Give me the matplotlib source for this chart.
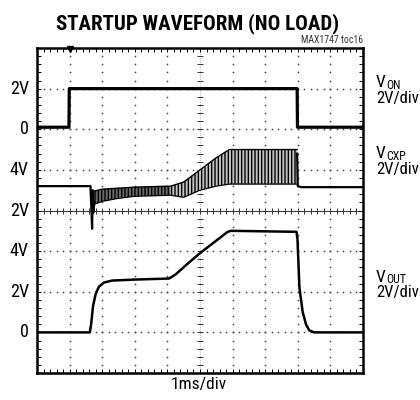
import numpy as np
import matplotlib
matplotlib.use("Agg")
import matplotlib.pyplot as plt
from matplotlib import font_manager

# ---------------- data ----------------
# time axis in ms (1 ms/div, 10 divisions)
von_t = [0.0, 0.98, 0.99, 7.98, 7.99, 10.0]
von_v = [0.1, 0.1, 2.0, 2.0, 0.1, 0.1]

cxp_pre_t = [0.0, 1.64, 1.67, 1.69, 1.71, 1.73, 1.76]
cxp_pre_v = [3.2, 3.2, 2.0, 1.1, 3.0, 1.9, 2.4]
cxp_post_t = [7.98, 8.0, 8.1, 10.0]
cxp_post_v = [4.8, 3.2, 3.15, 3.15]

# envelope of the switching ripple on CXP
cxp_env_t = [1.74, 2.0, 2.5, 3.0, 4.1, 4.5, 5.0, 5.5, 5.9, 6.5, 7.98]
cxp_env_lo = [2.3, 2.45, 2.6, 2.7, 2.75, 2.65, 3.0, 3.2, 3.3, 3.3, 3.3]
cxp_env_hi = [2.95, 3.05, 3.1, 3.15, 3.2, 3.4, 4.0, 4.6, 5.0, 5.0, 5.0]

vout_t = [0.0, 1.62, 1.66, 1.72, 1.80, 1.90, 2.05, 2.3, 3.0, 4.05, 4.25, 4.6,
          5.0, 5.85, 5.95, 7.96, 7.99, 8.05, 8.15, 8.25, 8.35, 8.5, 10.0]
vout_v = [0.0, 0.0, 0.4, 1.3, 1.9, 2.25, 2.45, 2.55, 2.6, 2.65, 2.85, 3.35,
          3.9, 4.95, 5.0, 4.95, 4.6, 2.2, 1.0, 0.4, 0.1, 0.0, 0.0]

left_labels = ["2V", "0", "4V", "2V", "4V", "2V", "0"]
left_label_divs = [7, 6, 5, 4, 3, 2, 1]

channel_names = ["ON", "CXP", "OUT"]
channel_scale = ["2V/div", "2V/div", "2V/div"]

# ---------------- fonts ----------------
names = {f.name for f in font_manager.fontManager.ttflist}
def pick(prefs, default):
    for p in prefs:
        if p in names:
            return p
    return default

BODY = pick(["Roboto Condensed", "Archivo Narrow", "Liberation Sans Narrow",
             "Arial Narrow", "PT Sans Narrow", "IBM Plex Sans Condensed",
             "Barlow Condensed"], "Liberation Sans")
TITLE = pick(["Roboto Condensed", "Archivo Narrow", "IBM Plex Sans Condensed",
              "Barlow Condensed"], "Liberation Sans")
plt.rcParams["font.family"] = [BODY, "DejaVu Sans"]
plt.rcParams["hatch.linewidth"] = 1.0

# channel offsets in divisions (display positions)
def von_div(v):
    return 6 + np.asarray(v) / 2.0

def cxp_div(v):
    return 3 + np.asarray(v) / 2.0

def out_div(v):
    return 1 + np.asarray(v) / 2.0

fig = plt.figure(figsize=(4.2, 4.0), dpi=100)
ax = fig.add_axes([37 / 420, 1 - 373 / 400, 326 / 420, 325 / 400])
ax.set_xlim(0, 10)
ax.set_ylim(0, 8)

# ---- graticule ----
dots_y = np.arange(0.2, 8.0, 0.2)
dots_x = np.arange(0.2, 10.0, 0.2)
for gx in range(1, 10):
    if gx == 5:
        continue
    ax.plot(np.full_like(dots_y, gx), dots_y, ls="none", marker="s",
            ms=1.1, mew=0, color="#444444", zorder=1)
for gy in range(1, 8):
    if gy == 4:
        continue
    ax.plot(dots_x, np.full_like(dots_x, gy), ls="none", marker="s",
            ms=1.1, mew=0, color="#444444", zorder=1)
# center lines with tick marks
ax.axhline(4, color="#333333", lw=0.7, zorder=1)
ax.axvline(5, color="#777777", lw=0.5, ls=(0, (1, 2)), zorder=1)
ax.plot(dots_x, np.full_like(dots_x, 4), ls="none", marker="|", ms=4,
        mew=0.7, color="#333333", zorder=1)
ax.plot(np.full_like(dots_y, 5), dots_y, ls="none", marker="_", ms=5,
        mew=0.7, color="#333333", zorder=1)

# border ticks
ax.set_xticks(np.arange(0, 11, 1))
ax.set_yticks(np.arange(0, 9, 1))
ax.set_xticks(np.arange(0, 10.01, 0.2), minor=True)
ax.set_yticks(np.arange(0, 8.01, 0.2), minor=True)
ax.tick_params(which="both", direction="in", length=3, width=0.7,
               top=True, right=True, labelbottom=False, labelleft=False)
for s in ax.spines.values():
    s.set_linewidth(1.8)

# ---- traces ----
ax.plot(von_t, von_div(von_v), color="black", lw=2.3, zorder=3)
ax.plot(cxp_pre_t, cxp_div(cxp_pre_v), color="black", lw=1.6, zorder=3)
ax.plot(cxp_post_t, cxp_div(cxp_post_v), color="black", lw=1.6, zorder=3)
env_t = np.asarray(cxp_env_t)
ax.fill_between(env_t, cxp_div(cxp_env_lo), cxp_div(cxp_env_hi),
                where=env_t <= 4.1, facecolor="#6a6a6a", edgecolor="black",
                hatch="|||||", linewidth=0.0, zorder=2)
ax.fill_between(env_t, cxp_div(cxp_env_lo), cxp_div(cxp_env_hi),
                where=env_t >= 4.1, facecolor="#c4c4c4", edgecolor="black",
                hatch="|||||", linewidth=0.0, zorder=2)
ax.plot(cxp_env_t, cxp_div(cxp_env_hi), color="black", lw=1.0, zorder=3)
ax.plot(cxp_env_t, cxp_div(cxp_env_lo), color="black", lw=0.9, zorder=3)
ax.plot(vout_t, out_div(vout_v), color="black", lw=1.8, zorder=3)

# trigger marker
ax.plot([1.0], [7.97], marker="v", ms=4, color="black", clip_on=False, zorder=4)

# ---- labels ----
for lab, d in zip(left_labels, left_label_divs):
    ax.text(-0.25, d, lab, ha="right", va="center", fontsize=13)

LX = 10.40
chan_v_div = [7.03, 5.28, 2.25]
chan_s_div = [6.64, 4.89, 1.86]
for sub, scale, yv, ys in zip(channel_names, channel_scale, chan_v_div, chan_s_div):
    tv = ax.text(LX, yv, "V", ha="left", va="baseline", fontsize=12.5,
                 clip_on=False)
    ax.annotate(sub, xy=(1, yv), xycoords=(tv, "data"), xytext=(0.3, -1.2),
                textcoords="offset points", ha="left", va="baseline",
                fontsize=8.6, annotation_clip=False)
    ax.text(LX, ys, scale, ha="left", va="baseline", fontsize=12,
            clip_on=False)

fig.text(0.471, 0.942, "STARTUP WAVEFORM (NO LOAD)", ha="center", va="center",
         fontsize=15, fontweight="heavy", family=[TITLE, "DejaVu Sans"])
fig.text(363 / 420, 0.9, "MAX1747 toc16", ha="right", va="center",
         fontsize=7, color="#333333")
fig.text(199 / 420, 1 - 385 / 400, "1ms/div", ha="center", va="center",
         fontsize=12.5)

fig.savefig("out.png", dpi=100)
